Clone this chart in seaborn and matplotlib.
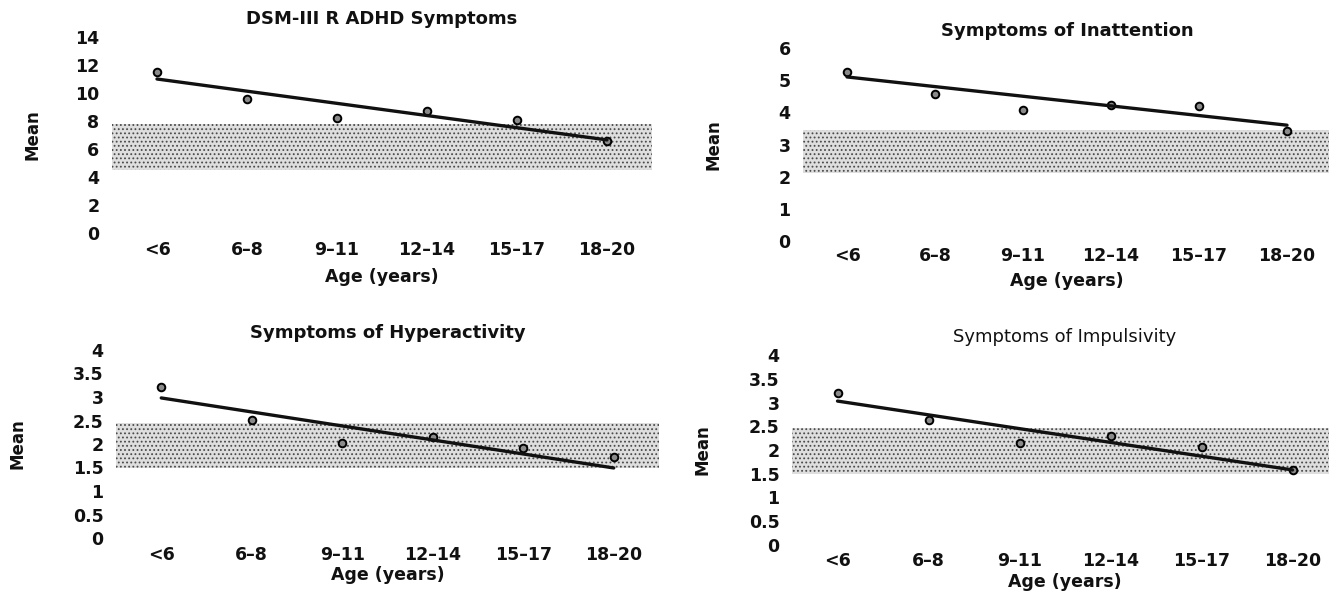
import matplotlib
matplotlib.use("Agg")
import matplotlib.pyplot as plt
import seaborn as sns
import pandas as pd

# ---------------- data ----------------
age_groups = ["<6", "6–8", "9–11", "12–14", "15–17", "18–20"]

titles = ["DSM-III R ADHD Symptoms", "Symptoms of Inattention",
          "Symptoms of Hyperactivity", "Symptoms of Impulsivity"]

total_means = [11.5, 9.55, 8.2, 8.7, 8.1, 6.6]
inattention_means = [5.25, 4.57, 4.07, 4.22, 4.19, 3.42]
hyperactivity_means = [3.21, 2.51, 2.02, 2.15, 1.91, 1.72]
impulsivity_means = [3.2, 2.63, 2.15, 2.29, 2.06, 1.58]

# fitted trend line: value at first and last age group
total_trend = [11.0, 6.65]
inattention_trend = [5.1, 3.6]
hyperactivity_trend = [2.98, 1.49]
impulsivity_trend = [3.03, 1.58]

# shaded reference band (low, high)
total_band = [4.5, 7.8]
inattention_band = [2.1, 3.45]
hyperactivity_band = [1.5, 2.45]
impulsivity_band = [1.49, 2.46]

total_ticks = [0, 2, 4, 6, 8, 10, 12, 14]
inattention_ticks = [0, 1, 2, 3, 4, 5, 6]
hyper_ticks = [0, 0.5, 1, 1.5, 2, 2.5, 3, 3.5, 4]
hyper_ticklabels = ["0", "0.5", "1", "1.5", "2", "2.5", "3", "3.5", "4"]

# ---------------- style ----------------
sns.set_theme(style="white")
plt.rcParams["font.family"] = ["DejaVu Sans"]
plt.rcParams["hatch.linewidth"] = 0.8

fig = plt.figure(figsize=(13.29, 5.93), dpi=100)
W, H = 1329, 593


def axes_px(x0, x1, ytop, ybot):
    return fig.add_axes([x0 / W, 1 - ybot / H, (x1 - x0) / W, (ybot - ytop) / H])


panels = [
    dict(ax=axes_px(112, 652, 37, 233), means=total_means, trend=total_trend,
         band=total_band, ticks=total_ticks, labels=[str(t) for t in total_ticks],
         ylim=(0, 14), title=titles[0], tw="bold", ylx=-0.13, xpad=6, lpad=6),
    dict(ax=axes_px(803, 1331, 48, 241), means=inattention_means, trend=inattention_trend,
         band=inattention_band, ticks=inattention_ticks,
         labels=[str(t) for t in inattention_ticks],
         ylim=(0, 6), title=titles[1], tw="bold", ylx=-0.153, xpad=4, lpad=5),
    dict(ax=axes_px(116, 659, 350, 538), means=hyperactivity_means, trend=hyperactivity_trend,
         band=hyperactivity_band, ticks=hyper_ticks, labels=hyper_ticklabels,
         ylim=(0, 4), title=titles[2], tw="bold", ylx=-0.165, xpad=6, lpad=1),
    dict(ax=axes_px(792, 1338, 355, 545), means=impulsivity_means, trend=impulsivity_trend,
         band=impulsivity_band, ticks=hyper_ticks, labels=hyper_ticklabels,
         ylim=(0, 4), title=titles[3], tw="normal", ylx=-0.147, xpad=5, lpad=2),
]

for p in panels:
    ax = p["ax"]
    df = pd.DataFrame({"age": age_groups, "mean": p["means"]})
    tdf = pd.DataFrame({"age": [age_groups[0], age_groups[-1]], "mean": p["trend"]})

    ax.axhspan(p["band"][0], p["band"][1], facecolor="#dedede", edgecolor="#4a4a4a",
               hatch="....", linewidth=0, zorder=0)
    sns.scatterplot(data=df, x="age", y="mean", ax=ax, marker="o", s=30,
                    facecolor="#8a8a8a", edgecolor="black", linewidth=1.4, zorder=3)
    sns.lineplot(data=tdf, x="age", y="mean", ax=ax, sort=False, color="#111111",
                 linewidth=2.4, zorder=4)

    ax.set_xlim(-0.5, 5.5)
    ax.set_ylim(*p["ylim"])
    ax.set_yticks(p["ticks"])
    ax.set_yticklabels(p["labels"])
    ax.set_xticks(range(len(age_groups)))
    ax.set_xticklabels(age_groups)
    ax.tick_params(axis="both", length=0, labelsize=12.5)
    ax.tick_params(axis="x", pad=p["xpad"])
    ax.tick_params(axis="y", pad=9)
    for lab in ax.get_xticklabels() + ax.get_yticklabels():
        lab.set_fontweight("bold")
        lab.set_color("#111111")
    for s in ax.spines.values():
        s.set_visible(False)
    ax.set_facecolor("none")
    ax.grid(False)

    ax.set_title(p["title"], fontsize=13, fontweight=p["tw"], color="#111111", pad=9)
    ax.set_xlabel("Age (years)", fontsize=12.5, fontweight="bold", color="#111111",
                  labelpad=p["lpad"])
    ax.set_ylabel("Mean", fontsize=12, fontweight="bold", color="#111111")
    ax.yaxis.set_label_coords(p["ylx"], 0.5)

fig.savefig("out.png", dpi=100, facecolor="white")
